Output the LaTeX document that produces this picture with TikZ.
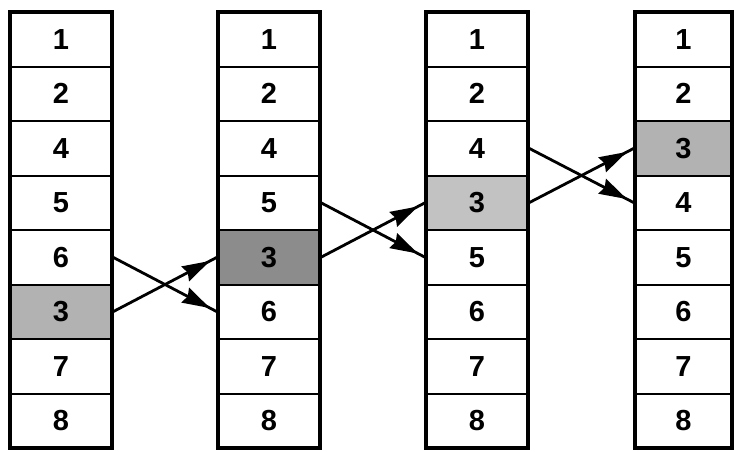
\documentclass[tikz,border=0pt]{standalone}
\usepackage{fontspec}
\setmainfont{Liberation Sans}
\usetikzlibrary{decorations.markings}
\tikzset{
  cell/.style={draw=black, line width=2pt, minimum width=#1, minimum height=54.5pt,
    inner sep=0pt, font=\bfseries\fontsize{29}{31}\selectfont, fill=white},
  outerbox/.style={draw=black, line width=3.4pt},
  conn/.style={line width=2.8pt, line cap=round,
    postaction={decorate, decoration={markings,
      mark=at position -8pt with {\fill[black] (0pt,0pt) -- (-28pt,8.5pt) -- (-25pt,0pt) -- (-28pt,-8.5pt) -- cycle;}}}}
}
\newcommand{\mkcol}[6]{%
  \foreach \t [count=\r] in {#4} {%
    \ifnum\r=#5\relax
      \node[cell=#3pt, fill=#6] (c#1r\r) at ({#2+#3/2},{12+54.5*(\r-0.5)}) {\t};
    \else
      \node[cell=#3pt] (c#1r\r) at ({#2+#3/2},{12+54.5*(\r-0.5)}) {\t};
    \fi
  }
  \draw[outerbox] (#2,12) rectangle ({#2+#3},448);
}
\begin{document}
\begin{tikzpicture}[x=1pt,y=-1pt]
\useasboundingbox (0,0) rectangle (734,451);
\mkcol{1}{10}{102}{1,2,4,5,6,3,7,8}{6}{black!30}
\mkcol{2}{218}{102}{1,2,4,5,3,6,7,8}{5}{black!45}
\mkcol{3}{426}{102}{1,2,4,3,5,6,7,8}{4}{black!24}
\mkcol{4}{635}{97}{1,2,3,4,5,6,7,8}{3}{black!30}
\draw[conn] (c1r5.east) -- (c2r6.west);
\draw[conn] (c1r6.east) -- (c2r5.west);
\draw[conn] (c2r4.east) -- (c3r5.west);
\draw[conn] (c2r5.east) -- (c3r4.west);
\draw[conn] (c3r3.east) -- (c4r4.west);
\draw[conn] (c3r4.east) -- (c4r3.west);
\end{tikzpicture}
\end{document}
